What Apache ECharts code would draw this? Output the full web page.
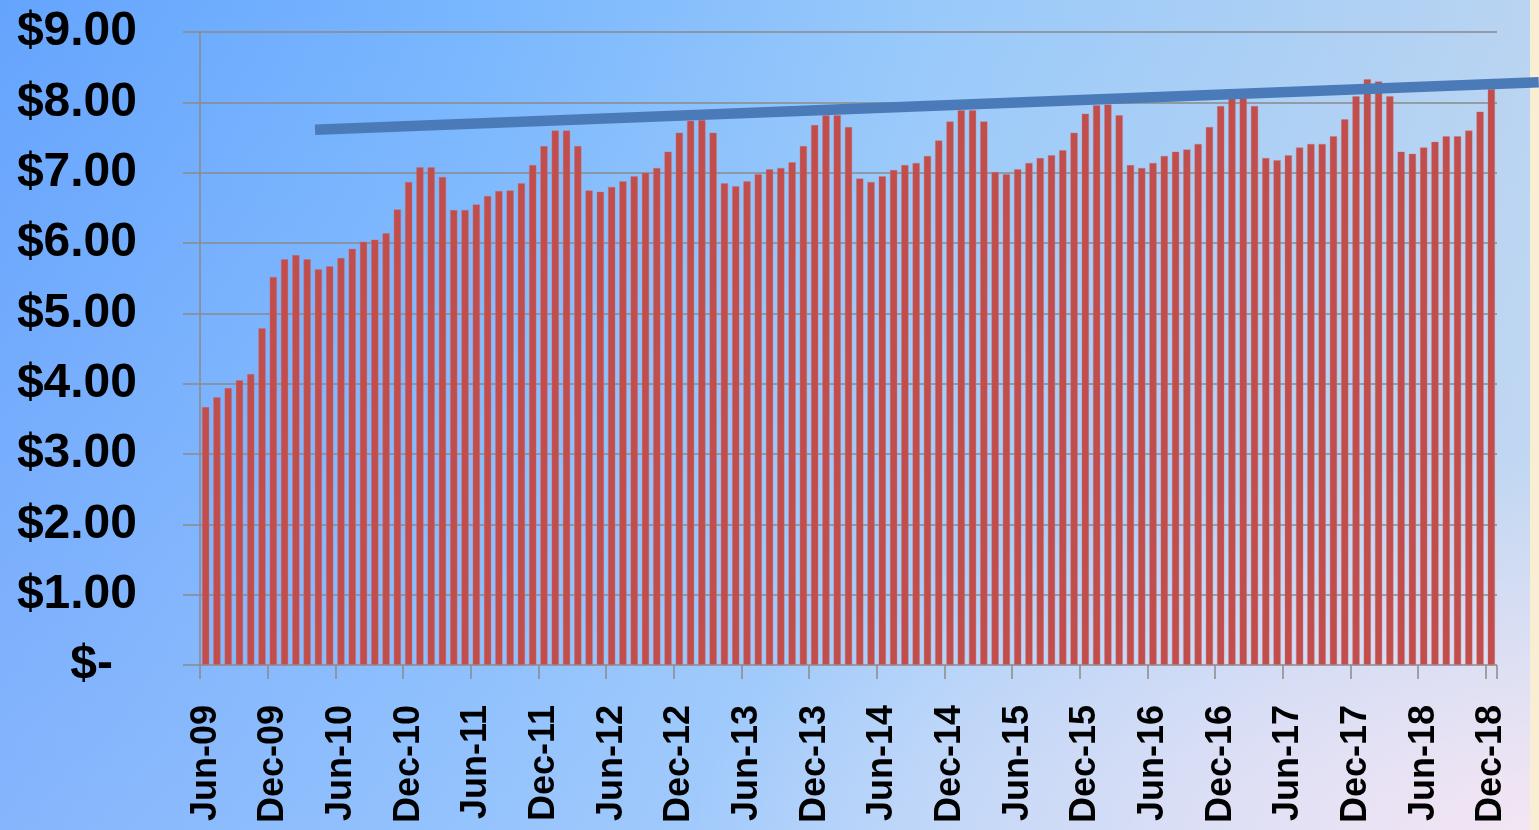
<!DOCTYPE html>
<html>
<head>
<meta charset="utf-8">
<script src="https://cdn.jsdelivr.net/npm/echarts@6/dist/echarts.min.js"></script>
<style>
  html, body { margin: 0; padding: 0; }
  body {
    width: 1539px; height: 830px; overflow: hidden; position: relative;
    background:
      radial-gradient(ellipse 55% 45% at 100% 100%, rgba(246,230,244,0.95) 0%, rgba(246,230,244,0) 100%),
      linear-gradient(to bottom, rgba(250,240,250,0) 0%, rgba(250,240,250,0.22) 100%),
      linear-gradient(to right, #65a4fd 0%, #78b6fe 30%, #98c9fa 60%, #b9d4f1 100%);
  }
  #edge { position: absolute; right: 0; top: 0; width: 9px; height: 830px; background: #f9eed3; }
  #chart { position: absolute; left: 0; top: 0; width: 1539px; height: 830px; }
</style>
</head>
<body>
<div id="edge"></div>
<div id="chart"></div>
<script>
// Monthly average price, Jun-09 through Dec-18
const startYear = 2009, startMonth = 5, monthCount = 115;
const monthNames = ['Jan','Feb','Mar','Apr','May','Jun','Jul','Aug','Sep','Oct','Nov','Dec'];

const prices = [
  3.67, 3.81, 3.94, 4.05, 4.14, 4.79, 5.52, 5.77, 5.83, 5.77, 5.63, 5.67,
  5.79, 5.92, 6.02, 6.05, 6.14, 6.48, 6.87, 7.08, 7.08, 6.94, 6.47, 6.47,
  6.55, 6.67, 6.74, 6.75, 6.85, 7.11, 7.38, 7.60, 7.60, 7.38, 6.75, 6.73,
  6.80, 6.88, 6.95, 7.00, 7.07, 7.30, 7.57, 7.74, 7.75, 7.57, 6.85, 6.81,
  6.88, 6.98, 7.05, 7.07, 7.15, 7.38, 7.68, 7.82, 7.82, 7.65, 6.92, 6.87,
  6.95, 7.04, 7.11, 7.14, 7.24, 7.46, 7.73, 7.89, 7.89, 7.73, 7.01, 6.98,
  7.05, 7.14, 7.21, 7.25, 7.32, 7.57, 7.84, 7.96, 7.97, 7.82, 7.11, 7.07,
  7.14, 7.24, 7.30, 7.33, 7.41, 7.65, 7.95, 8.06, 8.06, 7.95, 7.21, 7.18,
  7.25, 7.36, 7.41, 7.41, 7.52, 7.76, 8.09, 8.33, 8.30, 8.09, 7.30, 7.27,
  7.36, 7.44, 7.52, 7.52, 7.60, 7.87, 8.19
];

// Trend line end points, in (month index, price) units
const trendX = [9.7, 118.2];
const trendY = [7.61, 8.285];

// Y axis range in dollars
const yMin = 0, yMax = 9, yStep = 1;

const months = [];
for (let i = 0; i < monthCount; i++) {
  const m = (startMonth + i) % 12;
  const y = startYear + Math.floor((startMonth + i) / 12);
  months.push(monthNames[m] + '-' + String(y % 100).padStart(2, '0'));
}

const W = 1539;
const plot = { left: 200, right: 42, top: 32, bottom: 165 };
const plotW = W - plot.left - plot.right;
// The trend line runs on an overlay grid that reaches the right edge of the page,
// scaled so one unit equals one month column of the bar grid.
const overlayW = W - plot.left;
const overlayMax = -0.5 + monthCount * overlayW / plotW;

const font = '"Liberation Sans", Arial, sans-serif';
const gray = '#8a8a8a';

const chart = echarts.init(document.getElementById('chart'), null, { renderer: 'canvas' });
chart.setOption({
  backgroundColor: 'transparent',
  animation: false,
  grid: [
    { left: plot.left, right: plot.right, top: plot.top, bottom: plot.bottom, containLabel: false },
    { left: plot.left, right: 0, top: plot.top, bottom: plot.bottom, containLabel: false }
  ],
  xAxis: [
    {
      type: 'category',
      gridIndex: 0,
      data: months,
      boundaryGap: true,
      axisLine: { show: false },
      axisTick: { show: true, interval: 5, length: 14, lineStyle: { color: gray, width: 1.5 } },
      axisLabel: {
        interval: 5, rotate: 90, margin: 40,
        color: '#000', fontFamily: font, fontWeight: 'bold', fontSize: 36
      },
      splitLine: { show: false }
    },
    {
      type: 'value',
      gridIndex: 1,
      min: -0.5, max: overlayMax,
      show: false
    }
  ],
  yAxis: [
    {
      type: 'value',
      gridIndex: 0,
      min: yMin, max: yMax, interval: yStep,
      axisLine: { show: true, lineStyle: { color: gray, width: 1.5 } },
      axisTick: { show: true, length: 17, lineStyle: { color: gray, width: 1.5 } },
      splitLine: { show: true, lineStyle: { color: gray, width: 1.5 } },
      axisLabel: {
        margin: 63,
        color: '#000', fontFamily: font, fontWeight: 'bold', fontSize: 48,
        formatter: v => v === 0 ? '{z|$-}' : '$' + v.toFixed(2),
        rich: {
          z: { color: '#000', fontFamily: font, fontWeight: 'bold', fontSize: 48, padding: [0, 24, 0, 0] }
        }
      }
    },
    {
      type: 'value',
      gridIndex: 1,
      min: yMin, max: yMax,
      show: false
    }
  ],
  series: [
    {
      type: 'bar',
      xAxisIndex: 0, yAxisIndex: 0,
      data: prices,
      barWidth: 7.5,
      itemStyle: { color: '#c24e4b', borderColor: 'rgba(205,110,120,0.45)', borderWidth: 0.8 },
      z: 2
    },
    {
      type: 'line',
      xAxisIndex: 1, yAxisIndex: 1,
      data: trendX.map((x, i) => [x, trendY[i]]),
      symbol: 'none',
      clip: false,
      lineStyle: { color: '#4a7bb8', width: 10.5, cap: 'butt' },
      z: 5
    }
  ]
});
</script>
</body>
</html>
